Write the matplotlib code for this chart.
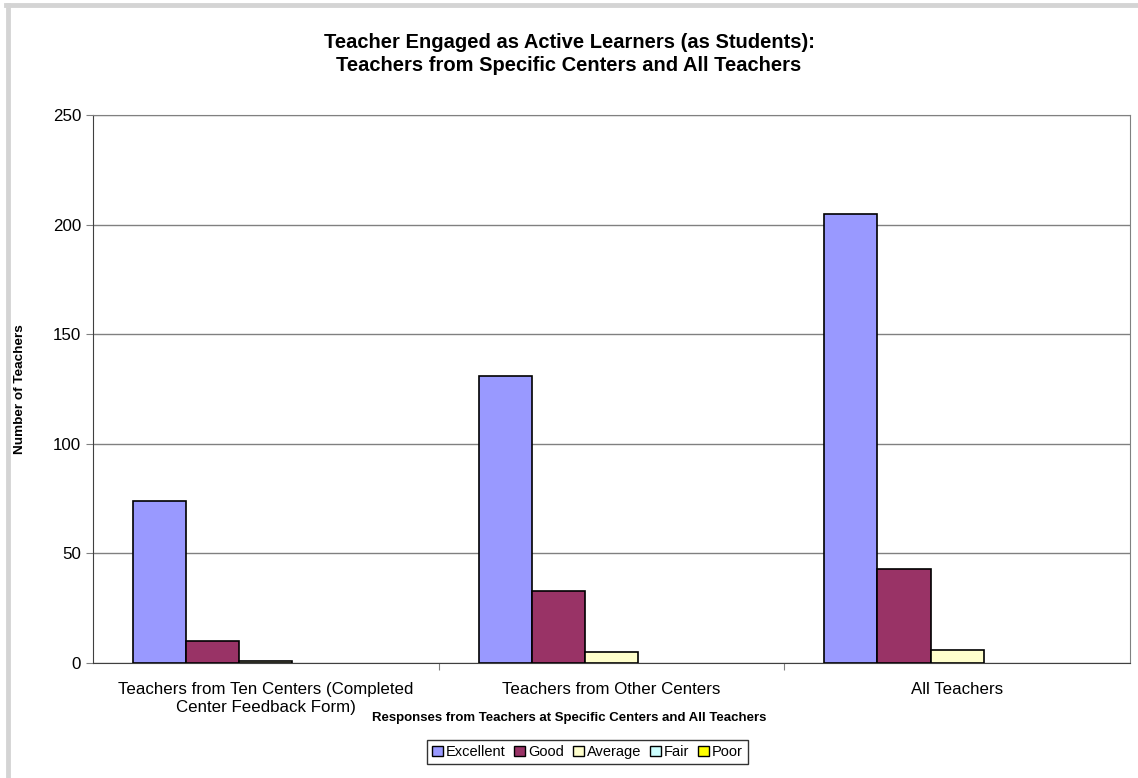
import numpy as np
import matplotlib
matplotlib.use("Agg")
import matplotlib.pyplot as plt
from matplotlib.patches import Patch
from matplotlib.lines import Line2D

plt.rcParams['font.family'] = ['Liberation Sans', 'DejaVu Sans']

categories = ["Teachers from Ten Centers (Completed\nCenter Feedback Form)",
              "Teachers from Other Centers",
              "All Teachers"]
series = ["Excellent", "Good", "Average", "Fair", "Poor"]
excellent = [74, 131, 205]
good = [10, 33, 43]
average = [1, 5, 6]
fair = [0, 0, 0]
poor = [0, 0, 0]
colors = ["#9999FF", "#993366", "#FFFFCC", "#CCFFFF", "#FFFF00"]

values = [excellent, good, average, fair, poor]

fig = plt.figure(figsize=(11.38, 7.78), dpi=100)
ax = fig.add_axes([0.0817, 0.1478, 0.9113, 0.7044])

# grey frame on the left and top edge of the chart
fig.lines.append(Line2D([0.007, 0.007], [0.0, 0.993], transform=fig.transFigure,
                        color="#d4d4d4", linewidth=3.5))
fig.lines.append(Line2D([0.005, 1.0], [0.993, 0.993], transform=fig.transFigure,
                        color="#d4d4d4", linewidth=3.5))

w = 1 / 6.5
x = np.arange(len(categories))
for i, (name, vals) in enumerate(zip(series, values)):
    pos = x - 2.5 * w + (i + 0.5) * w
    lw = [1.2 if v > 0 else 0 for v in vals]
    ax.bar(pos, vals, width=w, color=colors[i], edgecolor="black", linewidth=lw,
           label=name, zorder=3)

ax.set_xlim(-0.5, 2.5)
ax.set_ylim(0, 250)
ax.set_yticks(np.arange(0, 251, 50))
ax.yaxis.grid(True, color="#808080", linewidth=1)
ax.set_axisbelow(True)

ax.set_xticks([0.5, 1.5])
ax.set_xticklabels([])
ax.set_xticks(x, minor=True)
ax.set_xticklabels(categories, minor=True, fontsize=12.2, linespacing=1.25)
ax.tick_params(axis="x", which="minor", length=0, pad=14)
ax.tick_params(axis="x", which="major", length=5, color="#808080", direction="out")
ax.tick_params(axis="y", length=5, color="#808080", labelsize=12.2)

for s in ["top", "right"]:
    ax.spines[s].set_color("#808080")
for s in ["left", "bottom"]:
    ax.spines[s].set_color("#404040")

fig.text(0.5, 0.9306, "Teacher Engaged as Active Learners (as Students):\nTeachers from Specific Centers and All Teachers",
         ha="center", va="center", fontsize=14.5, fontweight="bold", linespacing=1.3)
fig.text(0.5, 0.077, "Responses from Teachers at Specific Centers and All Teachers",
         ha="center", va="center", fontsize=9.5, fontweight="bold")
fig.text(0.018, 0.5, "Number of Teachers", ha="center", va="center",
         rotation=90, fontsize=9.7, fontweight="bold")

handles = [Patch(facecolor=c, edgecolor="black", label=n) for c, n in zip(colors, series)]
leg = fig.legend(handles=handles, loc="center", bbox_to_anchor=(0.516, 0.0335), ncol=5,
                 fontsize=10.5, handlelength=0.75, handleheight=0.75, handletextpad=0.2,
                 columnspacing=0.6, frameon=True, fancybox=False, borderpad=0.35)
leg.get_frame().set_edgecolor("black")
leg.get_frame().set_linewidth(1)

fig.savefig("out.png", dpi=100)
